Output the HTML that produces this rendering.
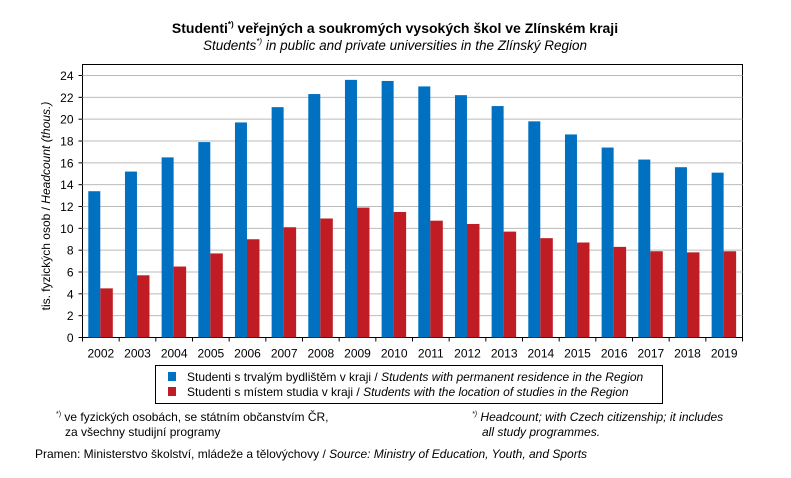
<!DOCTYPE html>
<html><head><meta charset="utf-8"><style>
body{margin:0;background:#fff;width:791px;height:473px;overflow:hidden;font-family:"Liberation Sans",sans-serif}
svg text{font-family:"Liberation Sans",sans-serif}
.n{font-family:"Liberation Sans Narrow","Liberation Sans",sans-serif}
</style></head><body>
<svg id="chart" width="791" height="473" xmlns="http://www.w3.org/2000/svg">
<text x="395" y="33" text-anchor="middle" font-size="14" font-weight="bold">Studenti<tspan font-size="8" dy="-6">*)</tspan><tspan dy="6"> veřejných a soukromých vysokých škol ve Zlínském kraji</tspan></text>
<text x="395" y="50" text-anchor="middle" font-size="13.5" font-style="italic">Students<tspan font-size="8" dy="-6">*)</tspan><tspan dy="6"> in public and private universities in the Zlínský Region</tspan></text>
<rect x="82.5" y="64.5" width="660" height="273" fill="none" stroke="#000" stroke-width="1"/>
<g id="grid"></g><g id="bars"></g><g id="axes"></g>
<text transform="translate(50,206) rotate(-90)" text-anchor="middle" font-size="12" class="n">tis. fyzických osob / <tspan font-style="italic">Headcount (thous.)</tspan></text>
<rect x="155.5" y="365.5" width="507" height="38" fill="none" stroke="#000"/>
<rect x="168" y="372" width="8" height="9" fill="#0070c0"/>
<text x="187" y="381" font-size="12" class="n">Studenti s trvalým bydlištěm v kraji / <tspan font-style="italic">Students with permanent residence in the Region</tspan></text>
<rect x="168" y="387" width="8" height="9" fill="#c01c24"/>
<text x="187" y="396" font-size="12" class="n">Studenti s místem studia v kraji / <tspan font-style="italic">Students with the location of studies in the Region</tspan></text>
<text x="56" y="421" font-size="12" class="n"><tspan font-size="7" dy="-5">*)</tspan><tspan dy="5"> ve fyzických osobách, se státním občanstvím ČR,</tspan></text>
<text x="65" y="436" font-size="12" class="n">za všechny studijní programy</text>
<text x="472" y="421" font-size="12" font-style="italic" class="n"><tspan font-size="7" dy="-5">*)</tspan><tspan dy="5"> Headcount; with Czech citizenship; it includes</tspan></text>
<text x="482" y="436" font-size="12" font-style="italic" class="n">all study programmes.</text>
<text x="35" y="458" font-size="12" class="n">Pramen: Ministerstvo školství, mládeže a tělovýchovy / <tspan font-style="italic">Source: Ministry of Education, Youth, and Sports</tspan></text>
</svg>
<script>
const categories=["2002","2003","2004","2005","2006","2007","2008","2009","2010","2011","2012","2013","2014","2015","2016","2017","2018","2019"];
const residence=[13.4,15.2,16.5,17.9,19.7,21.1,22.3,23.6,23.5,23.0,22.2,21.2,19.8,18.6,17.4,16.3,15.6,15.1];
const studyLocation=[4.5,5.7,6.5,7.7,9.0,10.1,10.9,11.9,11.5,10.7,10.4,9.7,9.1,8.7,8.3,7.9,7.8,7.9];
const yTicks=[0,2,4,6,8,10,12,14,16,18,20,22,24];
const NS="http://www.w3.org/2000/svg";
const X0=82.5,X1=742.5,Y0=337.5,Y24=75.5;
const y=v=>Y0-(v/24)*(Y0-Y24);
const bw=(X1-X0)/categories.length;
const x=i=>X0+i*bw;
function mk(t,a,p){const e=document.createElementNS(NS,t);for(const k in a)e.setAttribute(k,a[k]);p.appendChild(e);return e;}
const grid=document.getElementById('grid'),bars=document.getElementById('bars'),axes=document.getElementById('axes');
yTicks.forEach(v=>{
 if(v>0){const g=mk('line',{x1:X0,x2:X1,y1:y(v),y2:y(v),stroke:'#bbb','stroke-width':1},grid);
 
 }
 const t=mk('line',{x1:X0-4,x2:X0,y1:y(v),y2:y(v),stroke:'#000'},axes);
 
 
 const l=mk('text',{x:X0-9,y:y(v)+4.5,'text-anchor':'end','font-size':12},axes);l.textContent=v;
 
 
});
categories.forEach((c,i)=>{
 const b=mk('rect',{x:x(i)+5.8,y:y(residence[i]),width:12,height:Y0-y(residence[i]),fill:'#0070c0'},bars);
 
 
 const r=mk('rect',{x:x(i)+17.8,y:y(studyLocation[i]),width:12.5,height:Y0-y(studyLocation[i]),fill:'#c01c24'},bars);
 
 
 const t=mk('line',{x1:x(i),x2:x(i),y1:Y0,y2:Y0+4,stroke:'#000'},axes);
 
 
 const l=mk('text',{x:x(i)+bw/2,y:Y0+20,'text-anchor':'middle','font-size':12},axes);l.textContent=c;
 
 
});
const tl=mk('line',{x1:X1,x2:X1,y1:Y0,y2:Y0+4,stroke:'#000'},axes);


</script>
</body></html>
